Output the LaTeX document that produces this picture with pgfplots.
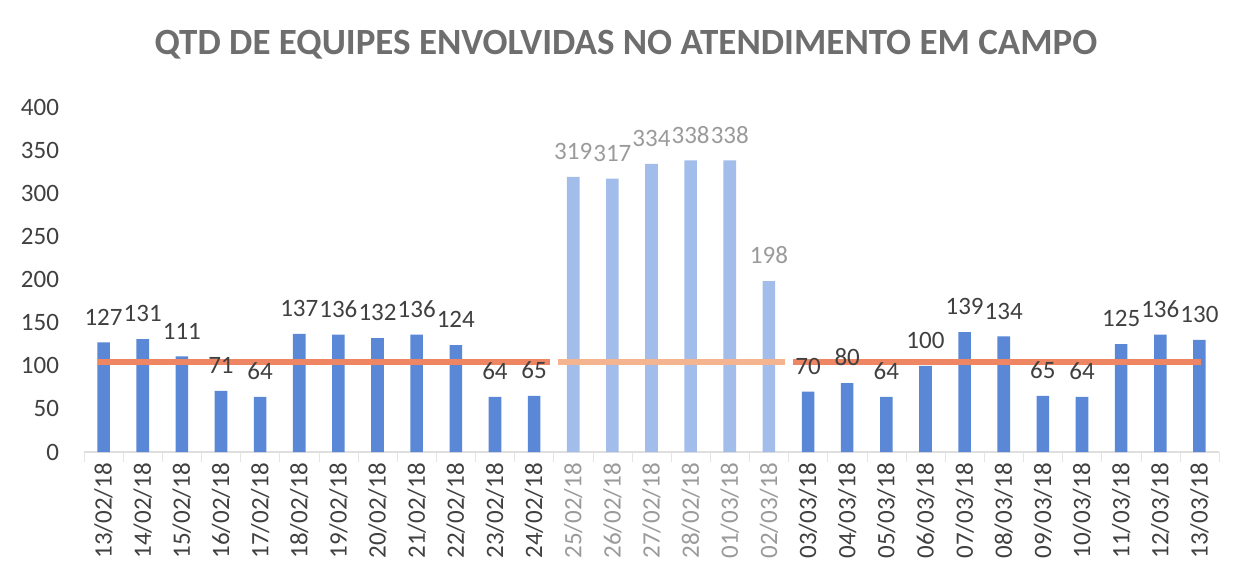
\documentclass[border=0pt]{standalone}
\usepackage{pgfplots}
\pgfplotsset{compat=1.18}
\usepackage{fontspec}
\setmainfont{Carlito}
\definecolor{barblue}{HTML}{5B87D7}
\definecolor{barlight}{HTML}{A3BDEB}
\definecolor{lineor}{HTML}{EE8563}
\definecolor{linelight}{HTML}{F4B48F}
\definecolor{txt}{HTML}{404040}
\definecolor{txtlight}{HTML}{9A9A9A}
\definecolor{titlec}{HTML}{6E6E6E}
\begin{document}
\begin{tikzpicture}
\useasboundingbox (0,0) rectangle (621pt,284.5pt);
\begin{axis}[
  at={(42pt,58.5pt)}, anchor=south west,
  scale only axis, width=567.5pt, height=172.5pt,
  xmin=-0.5, xmax=28.5, ymin=0, ymax=400,
  axis x line=bottom, axis y line=left,
  x axis line style={-, draw=gray!25, line width=0.6pt},
  y axis line style={draw=none},
  ytick={0,50,...,400},
  major tick length=0pt,
  minor xtick={-0.5,0.5,...,28.5},
  minor tick length=5pt,
  tick align=outside,
  minor x tick style={draw=gray!20},
  yticklabel style={font=\fontsize{12.5}{14}\selectfont, color=txt, xshift=-9pt},
  /pgf/number format/assume math mode=true,
  xtick={0,...,28},
  xticklabels={13/02/18,14/02/18,15/02/18,16/02/18,17/02/18,18/02/18,19/02/18,20/02/18,21/02/18,22/02/18,23/02/18,24/02/18,
    {\color{txtlight}25/02/18},{\color{txtlight}26/02/18},{\color{txtlight}27/02/18},{\color{txtlight}28/02/18},{\color{txtlight}01/03/18},{\color{txtlight}02/03/18},
    03/03/18,04/03/18,05/03/18,06/03/18,07/03/18,08/03/18,09/03/18,10/03/18,11/03/18,12/03/18,13/03/18},
  xticklabel style={rotate=90, anchor=east, font=\fontsize{12.5}{14}\selectfont, color=txt, xshift=-2pt},
  title={QTD DE EQUIPES ENVOLVIDAS NO ATENDIMENTO EM CAMPO},
  every axis title shift=0pt,
  title style={at={(rel axis cs:0.4775,1.18)}, anchor=center, font=\fontsize{18.5}{20}\selectfont\bfseries, color=titlec},
  ybar, bar width=6.3pt,
  nodes near coords style={font=\fontsize{12.5}{14}\selectfont, yshift=5pt},
  clip=false,
]
% bars
\addplot[ybar, bar shift=0pt, fill=barblue, draw=none] coordinates {
(0,127) (1,131) (2,111) (3,71) (4,64) (5,137) (6,136) (7,132) (8,136) (9,124) (10,64) (11,65)
(18,70) (19,80) (20,64) (21,100) (22,139) (23,134) (24,65) (25,64) (26,125) (27,136) (28,130)};
\addplot[ybar, bar shift=0pt, fill=barlight, draw=none] coordinates {
(12,319) (13,317) (14,334) (15,338) (16,338) (17,198)};
% average line
\addplot[sharp plot, lineor, line width=3pt, mark=none] coordinates {(-0.15,104.6) (11.4,104.6)};
\addplot[sharp plot, linelight, line width=3pt, mark=none] coordinates {(11.6,104.6) (17.42,104.6)};
\addplot[sharp plot, lineor, line width=3pt, mark=none] coordinates {(17.62,104.6) (28.05,104.6)};
% value labels on top
\addplot[ybar, bar shift=0pt, fill=none, draw=none, nodes near coords, nodes near coords style={color=txt}] coordinates {
(0,127) (1,131) (2,111) (3,71) (4,64) (5,137) (6,136) (7,132) (8,136) (9,124) (10,64) (11,65)
(18,70) (19,80) (20,64) (21,100) (22,139) (23,134) (24,65) (25,64) (26,125) (27,136) (28,130)};
\addplot[ybar, bar shift=0pt, fill=none, draw=none, nodes near coords, nodes near coords style={color=txtlight}] coordinates {
(12,319) (13,317) (14,334) (15,338) (16,338) (17,198)};
\end{axis}
\end{tikzpicture}
\end{document}
